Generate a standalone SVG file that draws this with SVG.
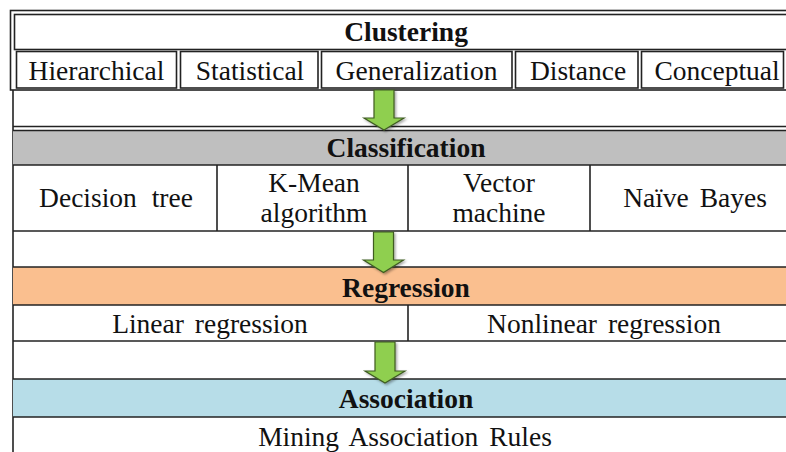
<svg xmlns="http://www.w3.org/2000/svg" width="786" height="452" viewBox="0 0 786 452" font-family="Liberation Serif, Times New Roman, DejaVu Serif, serif">
  <style>
    .line { stroke: #222; stroke-width: 1.6; fill: none; }
    .cell { fill: #fff; stroke: #222; stroke-width: 1.6; }
    .head { font-size: 27.5px; font-weight: bold; fill: #111; text-anchor: middle; }
    .body { font-size: 27.5px; fill: #111; text-anchor: middle; word-spacing: 4px; }
    .arrow { fill: #8fcf4f; stroke: #3f5c22; stroke-width: 1.2; stroke-linejoin: miter; }
  </style>
  <defs>
    <filter id="shade" x="-30%" y="-30%" width="160%" height="160%">
      <feDropShadow dx="1.5" dy="1.5" stdDeviation="1" flood-color="#000" flood-opacity="0.35"/>
    </filter>
  </defs>

  <rect width="786" height="452" fill="#fff"/>

  <!-- Clustering block -->
  <g id="clustering">
    <rect x="10.5" y="10.5" width="800" height="79.5" fill="#fff" class="line"/>
    <rect x="14.5" y="14.5" width="790" height="35" fill="#95b3d7" class="line"/>
    <text class="head" x="406" y="41" font-family="Liberation Serif, serif">Clustering</text>
    <rect class="cell" x="16.5" y="51.5" width="160" height="36.5"/>
    <rect class="cell" x="180.5" y="51.5" width="137.5" height="36.5"/>
    <rect class="cell" x="321.5" y="51.5" width="190.5" height="36.5"/>
    <rect class="cell" x="515.5" y="51.5" width="122.5" height="36.5"/>
    <rect class="cell" x="641.5" y="51.5" width="142" height="36.5"/>
    <text class="body" x="96.5" y="80" font-family="Liberation Serif, serif">Hierarchical</text>
    <text class="body" x="250" y="80" font-family="Liberation Serif, serif">Statistical</text>
    <text class="body" x="416.5" y="80" font-family="Liberation Serif, serif">Generalization</text>
    <text class="body" x="578" y="80" font-family="Liberation Serif, serif">Distance</text>
    <text class="body" x="717" y="80" font-family="Liberation Serif, serif">Conceptual</text>
  </g>

  <!-- Lower table frame -->
  <g id="frame">
    <line class="line" x1="13" y1="90" x2="13" y2="452"/>
    <line class="line" x1="13" y1="126.5" x2="786" y2="126.5"/>
  </g>

  <!-- Classification block -->
  <g id="classification" font-family="Liberation Serif, serif">
    <rect x="13" y="130.5" width="773" height="34.5" fill="#bfbfbf"/>
    <line class="line" x1="13" y1="130.5" x2="786" y2="130.5"/>
    <line class="line" x1="13" y1="165" x2="786" y2="165"/>
    <line class="line" x1="13" y1="231" x2="786" y2="231"/>
    <line class="line" x1="217" y1="165" x2="217" y2="231"/>
    <line class="line" x1="408" y1="165" x2="408" y2="231"/>
    <line class="line" x1="590" y1="165" x2="590" y2="231"/>
    <text class="head" x="406" y="157">Classification</text>
    <text class="body" x="116" y="207" style="word-spacing:8px">Decision tree</text>
    <text class="body" x="314" y="192">K-Mean</text>
    <text class="body" x="314" y="222">algorithm</text>
    <text class="body" x="499" y="192">Vector</text>
    <text class="body" x="499" y="222">machine</text>
    <text class="body" x="695" y="207">Naïve Bayes</text>
  </g>

  <!-- Regression block -->
  <g id="regression" font-family="Liberation Serif, serif">
    <rect x="13" y="267" width="773" height="38" fill="#fabf8f"/>
    <line class="line" x1="13" y1="267" x2="786" y2="267"/>
    <line class="line" x1="13" y1="305" x2="786" y2="305"/>
    <line class="line" x1="13" y1="341" x2="786" y2="341"/>
    <line class="line" x1="408" y1="305" x2="408" y2="341"/>
    <text class="head" x="406" y="297">Regression</text>
    <text class="body" x="210" y="333">Linear regression</text>
    <text class="body" x="604" y="333">Nonlinear regression</text>
  </g>

  <!-- Association block -->
  <g id="association" font-family="Liberation Serif, serif">
    <rect x="13" y="379" width="773" height="38" fill="#b7dde8"/>
    <line class="line" x1="13" y1="379" x2="786" y2="379"/>
    <line class="line" x1="13" y1="417" x2="786" y2="417"/>
    <text class="head" x="406" y="408">Association</text>
    <text class="body" x="405" y="446">Mining Association Rules</text>
  </g>

  <!-- Flow arrows between blocks -->
  <g id="connectors" filter="url(#shade)">
    <path class="arrow" d="M374 90 H394 V118 H404 L384 130 L364 118 H374 Z"/>
    <path class="arrow" d="M373.5 232 H393.5 V260 H403.5 L383.5 272.5 L363.5 260 H373.5 Z"/>
    <path class="arrow" d="M375 342 H395 V371 H405 L385 383 L365 371 H375 Z"/>
  </g>
</svg>
